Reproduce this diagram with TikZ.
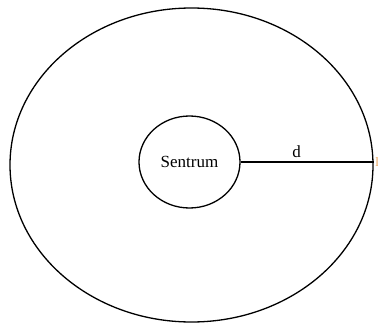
\documentclass[tikz,border=0pt]{standalone}
\usepackage{fontspec}
\setmainfont{Liberation Serif}
\usetikzlibrary{shapes.geometric,positioning}
\definecolor{ink}{HTML}{000000}
\definecolor{markcol}{HTML}{E8A25A}
\tikzset{
  ring/.style={draw=ink,ellipse,line width=1.3pt,inner sep=0pt},
  lbl/.style={font=\fontsize{17}{20}\selectfont,text=ink},
  marklbl/.style={font=\fontsize{13}{15}\selectfont,text=markcol,inner sep=0pt},
  radius line/.style={draw=ink,line width=1.3pt},
}
\begin{document}
\begin{tikzpicture}[x=1pt,y=-1pt]
  \useasboundingbox (0,0) rectangle (378,324);
  \node[ring,minimum width=363pt,minimum height=314pt] (outer) at (191.5,165) {};
  \node[ring,minimum width=101pt,minimum height=92pt,lbl] (sentrum) at (189.5,162) {Sentrum};
  \coordinate (edge) at (outer.east |- sentrum.east);
  \draw[radius line] (sentrum.east) -- node[lbl,above=0pt,pos=0.42]{d} (edge);
  \node[marklbl,anchor=west] (mark) at ([xshift=1.5pt]edge) {l};
\end{tikzpicture}
\end{document}
